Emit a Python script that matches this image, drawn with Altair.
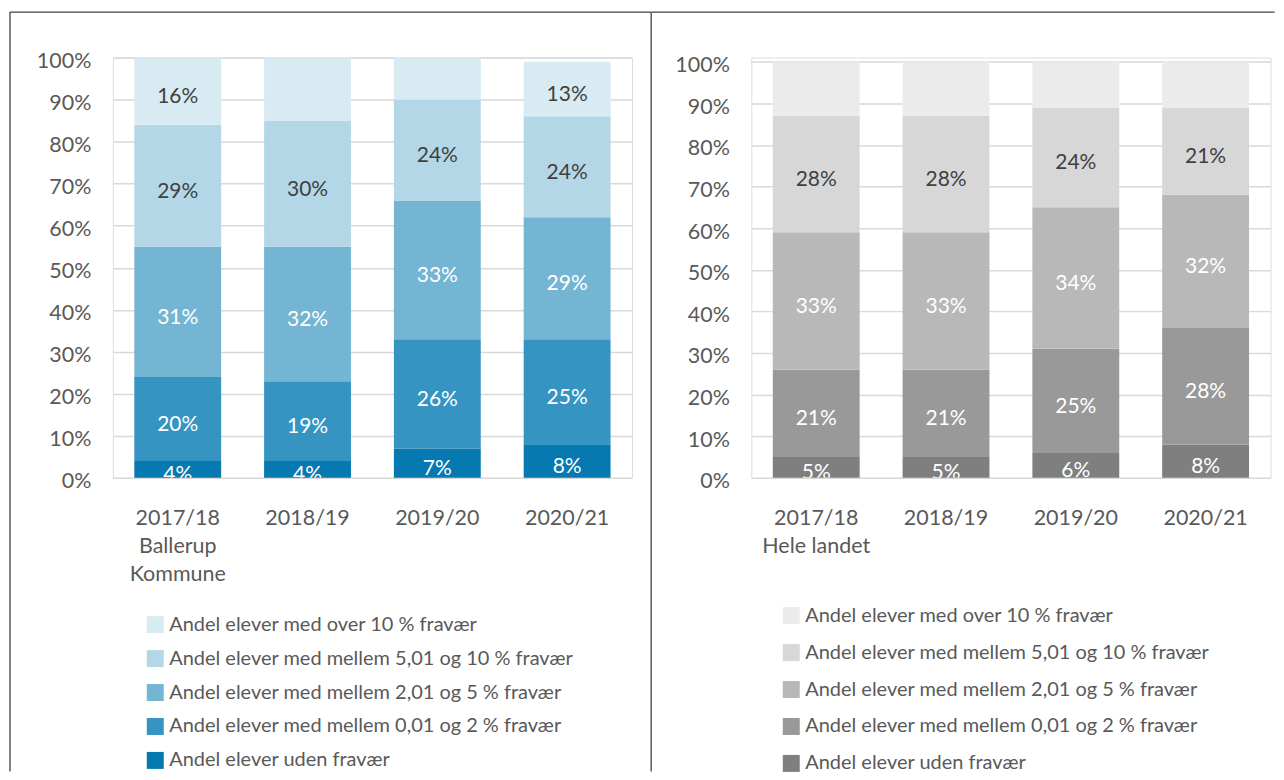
import json
import altair as alt
import pandas as pd

# ---------------- data ----------------
years = ["2017/18", "2018/19", "2019/20", "2020/21"]

# categories from bottom of stack to top
categories = [
    "Andel elever uden fravær",
    "Andel elever med mellem 0,01 og 2 % fravær",
    "Andel elever med mellem 2,01 og 5 % fravær",
    "Andel elever med mellem 5,01 og 10 % fravær",
    "Andel elever med over 10 % fravær",
]

ballerup_uden = [4, 4, 7, 8]
ballerup_0_2 = [20, 19, 26, 25]
ballerup_2_5 = [31, 32, 33, 29]
ballerup_5_10 = [29, 30, 24, 24]
ballerup_over10 = [16, 15, 10, 13]
ballerup_over10_labelled = [True, False, False, True]

landet_uden = [5, 5, 6, 8]
landet_0_2 = [21, 21, 25, 28]
landet_2_5 = [33, 33, 34, 32]
landet_5_10 = [28, 28, 24, 21]
landet_over10 = [13, 13, 11, 11]
landet_over10_labelled = [False, False, False, False]

blues = ["#0579b0", "#3594c1", "#74b5d4", "#b3d7e6", "#d8ebf3"]
greys = ["#7f7f7f", "#999999", "#b8b8b8", "#d7d7d7", "#ebebeb"]

ballerup_first_tick = ["2017/18", "Ballerup", "Kommune"]
landet_first_tick = ["2017/18", "Hele landet"]
y_ticks = list(range(0, 101, 10))

FONT = "Lato"
TEXT_GREY = "#595959"
DARK = "#404040"
BORDER = "#404040"


def make_df(series, over_labelled):
    rows = []
    for rank, vals in enumerate(series):
        for i, y in enumerate(years):
            show = True if rank < 4 else over_labelled[i]
            rows.append({"year": y, "cat": categories[rank], "rank": rank,
                         "value": vals[i], "show": show})
    return pd.DataFrame(rows)


df_b = make_df([ballerup_uden, ballerup_0_2, ballerup_2_5, ballerup_5_10, ballerup_over10],
               ballerup_over10_labelled)
df_l = make_df([landet_uden, landet_0_2, landet_2_5, landet_5_10, landet_over10],
               landet_over10_labelled)

W = 520
H = 421


def panel(df, colors, first_tick, ymax, leg_x, leg_y, leg_pad, borders):
    label_expr = "datum.value == %s ? %s : datum.value" % (
        json.dumps(first_tick[0]), json.dumps(first_tick))
    base = alt.Chart(df).transform_stack(
        stack="value", groupby=["year"], sort=[alt.SortField("rank")], as_=["y0", "y1"]
    ).transform_calculate(mid="(datum.y0 + datum.y1) / 2")

    x = alt.X("year:N", sort=years, title=None,
              scale=alt.Scale(paddingInner=0.33, paddingOuter=0.165),
              axis=alt.Axis(labelAngle=0, labelExpr=label_expr, labelFontSize=21.5,
                            labelColor=TEXT_GREY, labelPadding=30, labelLineHeight=28,
                            ticks=False, domain=False, grid=False, labelFont=FONT))
    yscale = alt.Scale(domain=[0, ymax], nice=False)
    bars = base.mark_bar(size=87).encode(
        x=x,
        y=alt.Y("y1:Q", scale=yscale, title=None,
                axis=alt.Axis(values=y_ticks, labelExpr="datum.value + '%'",
                              labelFontSize=21.5, labelColor=TEXT_GREY, labelPadding=22,
                              labelOffset=4,
                              ticks=False, domain=False, grid=True, gridColor="#d9d9d9",
                              gridWidth=1.5, labelFont=FONT)),
        y2="y0:Q",
        color=alt.Color("cat:N", scale=alt.Scale(domain=categories[::-1], range=colors[::-1]),
                        legend=alt.Legend(orient="none", legendX=leg_x, legendY=leg_y,
                                          title=None, symbolType="square", symbolSize=289,
                                          symbolStrokeWidth=0, labelFontSize=20,
                                          labelColor=TEXT_GREY, labelLimit=0,
                                          rowPadding=leg_pad, labelOffset=4, padding=0,
                                          labelFont=FONT)),
    )
    text = base.transform_filter("datum.show").mark_text(
        fontSize=21, font=FONT, baseline="middle", align="center", clip=True, dy=6
    ).encode(
        x=alt.X("year:N", sort=years),
        y=alt.Y("mid:Q", scale=yscale),
        text=alt.Text("label:N"),
        color=alt.condition("datum.rank <= 2", alt.value("white"), alt.value(DARK)),
    ).transform_calculate(label="datum.value + '%'")

    one = pd.DataFrame({"k": [0]})
    rules = []
    for (x1, x2, y1, y2) in borders:
        rules.append(alt.Chart(one).mark_rule(color=BORDER, strokeWidth=1.3).encode(
            x=alt.value(x1), x2=alt.value(x2), y=alt.value(y1), y2=alt.value(y2)))
    return alt.layer(bars, text, *rules).properties(width=W, height=H)


BOTTOM = 715
left = panel(df_b, blues, ballerup_first_tick, 100, 32.5, 558, 14,
             [(-103, -103, -45.5, BOTTOM), (-103, 539.2, -45.5, -45.5),
              (539.2, 539.2, -45.5, BOTTOM)])
right = panel(df_l, greys, landet_first_tick, 101, 30, 549, 17,
              [(-99.8, 524, -45.5, -45.5)])

chart = alt.hconcat(left, right, spacing=119.5, bounds="flush").resolve_scale(
    color="independent"
).properties(
    padding={"left": 0, "top": 2, "right": 0, "bottom": 0}
).configure_view(stroke=None).configure(font=FONT, background="white")

chart.save("out.html", embed_options={"renderer": "svg", "actions": False})
